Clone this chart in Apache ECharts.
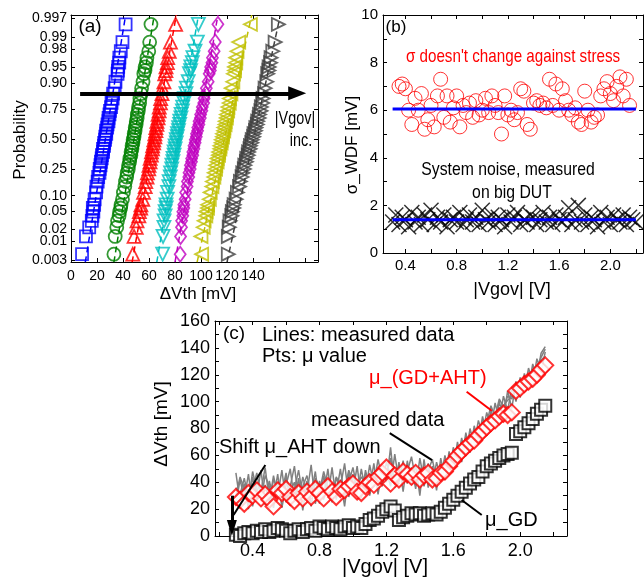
<!DOCTYPE html>
<html>
<head>
<meta charset="utf-8">
<script src="https://cdn.jsdelivr.net/npm/echarts@6/dist/echarts.min.js"></script>
<style>
  html, body { margin: 0; padding: 0; background: #fff; }
  #chart { width: 644px; height: 577px; }
</style>
</head>
<body>
<div id="chart"></div>
<script>
// ---------- (a) ΔVth distributions on a normal-probability scale ----------
// cumulative probability of each sorted sample (shared by all seven stress levels)
const probLevels = [
  0.0045, 0.0136, 0.0227, 0.0318, 0.0409, 0.0500, 0.0591, 0.0682, 0.0864, 0.1136,
  0.1409, 0.1682, 0.1955, 0.2227, 0.2500, 0.2773, 0.3045, 0.3318, 0.3591, 0.3864,
  0.4136, 0.4409, 0.4682, 0.4955, 0.5227, 0.5500, 0.5773, 0.6045, 0.6318, 0.6591,
  0.6864, 0.7136, 0.7409, 0.7682, 0.7955, 0.8227, 0.8500, 0.8773, 0.9045, 0.9318,
  0.9409, 0.9500, 0.9591, 0.9682, 0.9773, 0.9864, 0.9955
];
// sorted ΔVth [mV] at each probability level, one list per |Vgov|
const dvthBlue = [
  8.5, 11.5, 14.0, 16.0, 16.5, 17.2, 16.8, 17.8, 18.2, 19.3,
  19.6, 20.5, 20.9, 21.9, 22.1, 22.7, 23.0, 23.6, 23.8, 24.7,
  24.6, 25.4, 25.5, 26.2, 26.4, 27.1, 27.0, 27.8, 28.1, 28.8,
  28.9, 29.6, 30.0, 30.8, 31.2, 32.0, 32.4, 33.6, 34.2, 35.8,
  36.1, 36.3, 37.1, 37.2, 38.3, 39.6, 42.0
];
const dvthGreen = [
  33.0, 34.0, 35.2, 35.8, 37.0, 37.4, 38.2, 38.5, 39.6, 40.3,
  41.4, 41.9, 42.8, 43.2, 44.1, 44.3, 45.1, 45.3, 46.1, 46.2,
  46.9, 47.0, 47.7, 47.8, 48.5, 48.6, 49.3, 49.4, 50.1, 50.2,
  50.9, 51.0, 51.8, 52.0, 52.8, 53.0, 53.9, 54.3, 55.4, 56.0,
  56.9, 57.0, 58.0, 58.4, 59.8, 60.5, 61.5
];
const dvthRed = [
  47.5, 48.5, 50.2, 50.8, 52.2, 52.6, 53.6, 53.8, 55.2, 55.8,
  57.1, 57.5, 58.5, 58.8, 59.8, 60.0, 60.8, 60.9, 61.8, 61.9,
  62.7, 62.8, 63.6, 63.7, 64.5, 64.5, 65.3, 65.3, 66.1, 66.1,
  67.0, 67.0, 67.8, 67.9, 68.8, 69.0, 70.0, 70.3, 71.5, 72.1,
  73.0, 73.1, 74.1, 74.4, 75.6, 76.5, 80.5
];
const dvthCyan = [
  70.5, 70.8, 71.5, 71.6, 72.4, 72.4, 73.2, 73.1, 74.0, 74.3,
  75.3, 75.5, 76.4, 76.6, 77.5, 77.6, 78.4, 78.5, 79.3, 79.3,
  80.1, 80.1, 81.0, 81.0, 81.8, 81.9, 82.7, 82.8, 83.6, 83.7,
  84.6, 84.7, 85.7, 85.9, 86.9, 87.2, 88.4, 88.8, 90.2, 91.1,
  92.0, 92.2, 93.3, 93.8, 95.4, 97.2, 98.0
];
const dvthMagenta = [
  84.0, 84.3, 85.0, 85.1, 86.0, 86.0, 86.8, 86.8, 87.8, 88.2,
  89.3, 89.6, 90.6, 90.8, 91.7, 91.8, 92.7, 92.8, 93.7, 93.7,
  94.6, 94.6, 95.5, 95.6, 96.4, 96.5, 97.4, 97.5, 98.4, 98.5,
  99.5, 99.7, 100.7, 101.0, 102.1, 102.4, 103.6, 104.1, 105.5, 106.3,
  107.2, 107.4, 108.4, 108.8, 110.1, 111.0, 113.0
];
const dvthYellow = [
  100.5, 100.0, 101.7, 102.4, 103.7, 104.0, 105.0, 105.1, 106.4, 107.1,
  108.4, 108.8, 109.9, 110.2, 111.2, 111.4, 112.4, 112.5, 113.5, 113.6,
  114.5, 114.6, 115.5, 115.6, 116.5, 116.6, 117.5, 117.6, 118.5, 118.6,
  119.5, 119.6, 120.5, 120.7, 121.7, 121.9, 123.0, 123.3, 124.5, 125.0,
  125.8, 125.8, 126.7, 126.8, 127.7, 129.0, 138.0
];
const dvthGray = [
  121.0, 121.0, 121.7, 122.3, 123.7, 124.1, 125.2, 125.5, 127.0, 128.0,
  129.6, 130.3, 131.6, 132.1, 133.3, 133.7, 134.9, 135.2, 136.3, 136.6,
  137.7, 138.0, 139.1, 139.4, 140.5, 140.8, 141.9, 142.2, 143.3, 143.6,
  144.7, 145.0, 146.1, 146.4, 147.5, 147.8, 148.9, 149.3, 150.6, 151.3,
  152.2, 152.4, 153.5, 153.9, 155.2, 157.0, 159.5
];
// normal fit lines: ΔVth at the bottom and top probability of the axis
const fitProb = [0.0026, 0.9976];
const fitLow  = [11, 33, 47, 66, 80, 97, 120];
const fitHigh = [42, 64, 81, 98, 113, 139, 161];
const probTicks = ['0.003', '0.01', '0.02', '0.05', '0.10', '0.25', '0.50',
                   '0.75', '0.90', '0.95', '0.98', '0.99', '0.997'];
const dvthTicks = [0, 20, 40, 60, 80, 100, 120, 140];

// ---------- (b) σ of the ΔVth distribution vs. stress voltage ----------
const sigmaV = [
  0.350, 0.375, 0.400, 0.425, 0.450, 0.475, 0.500, 0.525, 0.550, 0.575,
  0.600, 0.625, 0.650, 0.675, 0.700, 0.725, 0.750, 0.775, 0.800, 0.825,
  0.850, 0.875, 0.900, 0.925, 0.950, 0.975, 1.000, 1.025, 1.050, 1.075,
  1.100, 1.125, 1.150, 1.175, 1.200, 1.225, 1.250, 1.275, 1.300, 1.325,
  1.350, 1.375, 1.400, 1.425, 1.450, 1.475, 1.500, 1.525, 1.550, 1.575,
  1.600, 1.625, 1.650, 1.675, 1.700, 1.725, 1.750, 1.775, 1.800, 1.825,
  1.850, 1.875, 1.900, 1.925, 1.950, 1.975, 2.000, 2.025, 2.050, 2.075,
  2.100, 2.125, 2.150
];
const sigmaWdf = [
  7.0, 7.1, 6.9, 6.0, 5.4, 6.5, 6.0, 6.7, 5.2, 5.6,
  6.2, 5.3, 6.6, 7.3, 5.7, 6.6, 5.5, 6.1, 6.6, 5.3,
  6.2, 5.9, 6.3, 5.7, 6.4, 5.8, 6.0, 6.5, 5.9, 6.6,
  6.2, 5.9, 5.0, 6.6, 5.8, 6.0, 5.6, 5.9, 6.9, 6.8,
  5.4, 5.2, 6.3, 6.4, 6.2, 6.3, 6.1, 7.3, 6.2, 7.1,
  6.0, 6.9, 6.4, 6.0, 5.8, 6.1, 5.5, 5.4, 6.8, 6.0,
  5.5, 5.7, 5.8, 6.6, 6.9, 7.2, 6.7, 6.4, 7.0, 7.4,
  6.6, 7.3, 6.2
];
const noiseV = [
  0.300, 0.325, 0.350, 0.375, 0.400, 0.425, 0.450, 0.475, 0.500, 0.525,
  0.550, 0.575, 0.600, 0.625, 0.650, 0.675, 0.700, 0.725, 0.750, 0.775,
  0.800, 0.825, 0.850, 0.875, 0.900, 0.925, 0.950, 0.975, 1.000, 1.025,
  1.050, 1.075, 1.100, 1.125, 1.150, 1.175, 1.200, 1.225, 1.250, 1.275,
  1.300, 1.325, 1.350, 1.375, 1.400, 1.425, 1.450, 1.475, 1.500, 1.525,
  1.550, 1.575, 1.600, 1.625, 1.650, 1.675, 1.700, 1.725, 1.750, 1.775,
  1.800, 1.825, 1.850, 1.875, 1.900, 1.925, 1.950, 1.975, 2.000, 2.025,
  2.050, 2.075, 2.100, 2.125, 2.150, 2.175, 2.200
];
const noiseWdf = [
  1.3, 1.6, 1.2, 1.5, 1.4, 1.1, 1.7, 1.3, 1.5, 1.2,
  1.6, 1.4, 1.8, 1.2, 1.5, 1.3, 1.6, 1.1, 1.4, 1.5,
  1.3, 1.7, 1.2, 1.4, 1.6, 1.3, 1.5, 1.2, 1.8, 1.4,
  1.3, 1.6, 1.2, 1.5, 1.4, 1.1, 1.6, 1.3, 1.5, 1.7,
  1.2, 1.4, 1.3, 1.6, 1.5, 1.2, 1.4, 1.7, 1.3, 1.5,
  1.2, 1.6, 1.4, 1.3, 1.5, 1.9, 1.2, 1.4, 2.0, 1.3,
  1.6, 1.2, 1.5, 1.4, 1.1, 1.7, 1.3, 1.5, 1.2, 1.6,
  1.4, 1.3, 1.6, 1.2, 1.5, 1.4, 1.3
];
const sigmaMean = 6.05;     // mean σ of the small devices
const noiseMean = 1.4;      // mean σ of the system noise
const meanSpan = [0.3, 2.2];

// ---------- (c) mean ΔVth vs. stress voltage ----------
const stressV = [
  0.300, 0.325, 0.350, 0.375, 0.400, 0.425, 0.450, 0.475, 0.500, 0.525,
  0.550, 0.575, 0.600, 0.625, 0.650, 0.675, 0.700, 0.725, 0.750, 0.775,
  0.800, 0.825, 0.850, 0.875, 0.900, 0.925, 0.950, 0.975, 1.000, 1.025,
  1.050, 1.075, 1.100, 1.125, 1.150, 1.175, 1.200, 1.225, 1.250, 1.275,
  1.300, 1.325, 1.350, 1.375, 1.400, 1.425, 1.450, 1.475, 1.500, 1.525,
  1.550, 1.575, 1.600, 1.625, 1.650, 1.675, 1.700, 1.725, 1.750, 1.775,
  1.800, 1.825, 1.850, 1.875, 1.900, 1.925, 1.950, 1.975, 2.000, 2.025,
  2.050, 2.075, 2.100, 2.125, 2.150
];
const muTotal = [
  29, 27, 24, 32, 30, 34, 28, 31, 27, 22,
  34, 32, 35, 29, 26, 32, 28, 33, 29, 35,
  32, 28, 37, 33, 29, 35, 34, 37, 39, 33,
  32, 37, 40, 38, 44, 47, 51, 39, 45, 42,
  48, 46, 44, 47, 42, 45, 47, 42, 43, 47,
  48, 52, 56, 60, 63, 66, 69, 71, 75, 78,
  81, 84, 86, 89, 91, 90, 92, 108, 110, 113,
  115, 117, 120, 124, 127
];
const muGd = [
  1, 0, 2, 3, 2, 4, 3, 5, 3, 4,
  6, 5, 4, 2, 4, 5, 3, 5, 6, 4,
  7, 6, 5, 7, 6, 5, 7, 8, 6, 7,
  6, 9, 12, 13, 15, 18, 20, 22, 19, 12,
  14, 15, 17, 16, 17, 15, 16, 17, 16, 18,
  21, 24, 27, 30, 33, 36, 39, 42, 44, 48,
  52, 54, 56, 58, 60, 61, 62, 76, 78, 81,
  84, 87, 91, 94, 97
];
// individual measured ΔVth traces
const measured1 = [
  47, 25, 39, 20, 44, 30, 49, 23, 41, 28,
  46, 21, 38, 50, 26, 43, 19, 40, 31, 48,
  24, 45, 29, 51, 27, 42, 22, 47, 33, 52,
  28, 49, 35, 54, 31, 50, 40, 66, 36, 55,
  33, 56, 38, 53, 30, 57, 36, 52, 34, 58,
  42, 63, 50, 70, 55, 77, 62, 82, 70, 89,
  75, 94, 82, 100, 88, 108, 95, 115, 103, 121,
  110, 128, 118, 136, 141
];
const measured2 = [
  24, 42, 28, 46, 22, 40, 33, 51, 26, 45,
  30, 49, 25, 37, 52, 27, 44, 32, 53, 24,
  41, 30, 50, 25, 43, 36, 54, 29, 46, 31,
  50, 33, 53, 38, 57, 42, 48, 37, 61, 40,
  56, 39, 51, 35, 58, 41, 54, 38, 55, 43,
  60, 46, 66, 55, 73, 60, 80, 68, 86, 76,
  92, 80, 99, 86, 104, 93, 111, 100, 118, 109,
  125, 114, 132, 122, 137
];
const measured3 = [
  36, 31, 43, 28, 35, 47, 30, 38, 25, 42,
  35, 29, 44, 33, 40, 24, 37, 45, 30, 39,
  33, 48, 36, 31, 44, 38, 35, 49, 40, 37,
  44, 39, 46, 42, 48, 37, 55, 45, 49, 44,
  47, 43, 49, 45, 42, 50, 44, 48, 46, 49,
  51, 56, 59, 63, 66, 70, 72, 77, 79, 83,
  86, 89, 91, 95, 97, 101, 104, 109, 112, 116,
  119, 124, 127, 131, 134
];
const measured4 = [
  30, 44, 35, 26, 48, 34, 27, 45, 37, 21,
  40, 33, 47, 23, 35, 49, 29, 41, 22, 43,
  37, 27, 42, 39, 32, 50, 28, 40, 51, 35,
  39, 46, 30, 47, 43, 52, 46, 58, 41, 51,
  40, 48, 59, 42, 51, 37, 49, 57, 41, 53,
  49, 59, 54, 66, 62, 74, 68, 79, 76, 85,
  84, 97, 89, 102, 96, 104, 102, 112, 108, 118,
  117, 122, 126, 133, 139
];

// inverse standard normal CDF (Acklam's rational approximation)
function probit(p) {
  const a = [-3.969683028665376e+01, 2.209460984245205e+02, -2.759285104469687e+02,
             1.383577518672690e+02, -3.066479806614716e+01, 2.506628277459239e+00];
  const b = [-5.447609879822406e+01, 1.615858368580409e+02, -1.556989798598866e+02,
             6.680131188771972e+01, -1.328068155288572e+01];
  const c = [-7.784894002430293e-03, -3.223964580411365e-01, -2.400758277161838e+00,
             -2.549732539343734e+00, 4.374664141464968e+00, 2.938163982698783e+00];
  const d = [7.784695709041462e-03, 3.224671290700398e-01, 2.445134137142996e+00,
             3.754408661907416e+00];
  const plow = 0.02425;
  let q, r;
  if (p < plow) {
    q = Math.sqrt(-2 * Math.log(p));
    return (((((c[0]*q+c[1])*q+c[2])*q+c[3])*q+c[4])*q+c[5]) /
           ((((d[0]*q+d[1])*q+d[2])*q+d[3])*q+1);
  }
  if (p <= 1 - plow) {
    q = p - 0.5; r = q * q;
    return (((((a[0]*r+a[1])*r+a[2])*r+a[3])*r+a[4])*r+a[5])*q /
           (((((b[0]*r+b[1])*r+b[2])*r+b[3])*r+b[4])*r+1);
  }
  q = Math.sqrt(-2 * Math.log(1 - p));
  return -(((((c[0]*q+c[1])*q+c[2])*q+c[3])*q+c[4])*q+c[5]) /
          ((((d[0]*q+d[1])*q+d[2])*q+d[3])*q+1);
}

const SANS = "'Liberation Sans',Arial,Helvetica,sans-serif";

const probZ = probTicks.map(s => probit(parseFloat(s)));
// nearest probability tick for a position on the z axis
function probLabel(v) {
  const z = Number(v);
  let best = 0;
  for (let i = 1; i < probZ.length; i++) {
    if (Math.abs(probZ[i] - z) < Math.abs(probZ[best] - z)) best = i;
  }
  return '{p|' + probTicks[best] + '}';
}
const steps = (from, to, step) => {
  const out = [];
  for (let v = from; v <= to + 1e-9; v += step) out.push(+v.toFixed(4));
  return out;
};

function mkAxis(p) {
  return {
    type: 'value', gridIndex: p.grid, position: p.pos, min: p.min, max: p.max,
    splitLine: { show: false },
    axisLine: { show: true, onZero: false, lineStyle: { color: '#000', width: 1 } },
    axisTick: { show: true, inside: true, length: 4, customValues: p.ticks,
                lineStyle: { color: '#000', width: 1 } },
    axisLabel: { show: !!p.labels, customValues: p.labels, formatter: p.fmt,
                 color: '#000', fontFamily: SANS, fontSize: p.size, margin: p.margin,
                 rich: { p: { fontFamily: SANS, fontSize: p.size, color: '#000' } } },
  };
}

const zMin = -2.79, zMax = 2.825;
const fixed1 = v => Number(v).toFixed(1);
const xAxes = [
  mkAxis({ grid: 0, pos: 'bottom', min: 0, max: 190, ticks: steps(0, 180, 20),
           labels: dvthTicks, fmt: v => String(v), size: 14, margin: 7 }),
  mkAxis({ grid: 0, pos: 'top', min: 0, max: 190, ticks: steps(0, 180, 20) }),
  mkAxis({ grid: 1, pos: 'bottom', min: 0.225, max: 2.255, ticks: steps(0.4, 2.2, 0.2),
           labels: steps(0.4, 2.0, 0.4), fmt: fixed1, size: 15, margin: 5 }),
  mkAxis({ grid: 1, pos: 'top', min: 0.225, max: 2.255, ticks: steps(0.4, 2.2, 0.2) }),
  mkAxis({ grid: 2, pos: 'bottom', min: 0.175, max: 2.28, ticks: steps(0.2, 2.2, 0.2),
           labels: steps(0.4, 2.0, 0.4), fmt: fixed1, size: 18, margin: 6 }),
  mkAxis({ grid: 2, pos: 'top', min: 0.175, max: 2.28, ticks: steps(0.2, 2.2, 0.2) }),
];
const yAxes = [
  mkAxis({ grid: 0, pos: 'left', min: zMin, max: zMax, ticks: probZ,
           labels: probZ, fmt: probLabel, size: 14, margin: 4 }),
  mkAxis({ grid: 0, pos: 'right', min: zMin, max: zMax, ticks: probZ }),
  mkAxis({ grid: 1, pos: 'left', min: 0, max: 10, ticks: steps(0, 10, 1),
           labels: steps(0, 10, 2), fmt: v => String(v), size: 15, margin: 5 }),
  mkAxis({ grid: 1, pos: 'right', min: 0, max: 10, ticks: steps(0, 10, 1) }),
  mkAxis({ grid: 2, pos: 'left', min: 0, max: 160, ticks: steps(0, 160, 10),
           labels: steps(0, 160, 20), fmt: v => String(v), size: 18, margin: 5 }),
  mkAxis({ grid: 2, pos: 'right', min: 0, max: 160, ticks: steps(0, 160, 10) }),
];

// marker styles for the seven stress levels in (a)
const dists = [
  { data: dvthBlue,    color: '#0000ff', symbol: 'rect',     size: 12,       rot: 0 },
  { data: dvthGreen,   color: '#008000', symbol: 'circle',   size: 13,       rot: 0 },
  { data: dvthRed,     color: '#ff0000', symbol: 'triangle', size: 13,       rot: 0 },
  { data: dvthCyan,    color: '#00bfbf', symbol: 'triangle', size: 13,       rot: 180 },
  { data: dvthMagenta, color: '#bf00bf', symbol: 'diamond',  size: [11, 15], rot: 0 },
  { data: dvthYellow,  color: '#bfbf00', symbol: 'triangle', size: 13,       rot: 90 },
  { data: dvthGray,    color: '#404040', symbol: 'triangle', size: 13,       rot: -90 },
];

const series = [];
dists.forEach((d, k) => {
  series.push({
    type: 'line', xAxisIndex: 0, yAxisIndex: 0, silent: true, symbol: 'none',
    data: [[fitLow[k], probit(fitProb[0])], [fitHigh[k], probit(fitProb[1])]],
    lineStyle: { color: d.color, width: 1.5, type: [6, 4] }, z: 2,
  });
  series.push({
    type: 'scatter', xAxisIndex: 0, yAxisIndex: 0, silent: true,
    symbol: d.symbol, symbolSize: d.size, symbolRotate: d.rot,
    data: d.data.map((v, i) => [v, probit(probLevels[i])]),
    itemStyle: { color: 'rgba(0,0,0,0)', borderColor: d.color, borderWidth: 1.8 }, z: 3,
  });
});

// arrow marking increasing |Vgov| in (a)
const arrowA = { from: 7, to: 174, prob: 0.852 };
series.push({
  type: 'line', xAxisIndex: 0, yAxisIndex: 0, data: [], silent: true, z: 10,
  markLine: {
    silent: true, animation: false, symbol: ['none', 'triangle'], symbolSize: [14, 18],
    label: { show: false }, lineStyle: { color: '#000', width: 4, type: 'solid' },
    data: [[{ coord: [arrowA.from, probit(arrowA.prob)] }, { coord: [arrowA.to, probit(arrowA.prob)] }]],
  },
});

// (b)
series.push({
  type: 'scatter', xAxisIndex: 2, yAxisIndex: 2, silent: true,
  symbol: 'circle', symbolSize: 14,
  data: sigmaV.map((v, i) => [v, sigmaWdf[i]]),
  itemStyle: { color: 'rgba(0,0,0,0)', borderColor: '#ff0000', borderWidth: 1 },
});
series.push({
  type: 'scatter', xAxisIndex: 2, yAxisIndex: 2, silent: true,
  symbol: 'path://M0 0L10 10M10 0L0 10', symbolSize: 15,
  data: noiseV.map((v, i) => [v, noiseWdf[i]]),
  itemStyle: { color: 'none', borderColor: '#000', borderWidth: 1.5 },
});
[sigmaMean, noiseMean].forEach(m => {
  series.push({
    type: 'line', xAxisIndex: 2, yAxisIndex: 2, silent: true, symbol: 'none', z: 5,
    data: [[meanSpan[0], m], [meanSpan[1], m]],
    lineStyle: { color: '#0000ff', width: 3 },
  });
});

// (c)
[measured1, measured2, measured3, measured4].forEach(arr => {
  series.push({
    type: 'line', xAxisIndex: 4, yAxisIndex: 4, silent: true, symbol: 'none',
    data: stressV.map((v, i) => [v, arr[i]]),
    lineStyle: { color: '#808080', width: 1.5 }, z: 2,
  });
});
series.push({
  type: 'scatter', xAxisIndex: 4, yAxisIndex: 4, silent: true,
  symbol: 'rect', symbolSize: 12, clip: true,
  data: stressV.map((v, i) => [v, muGd[i]]),
  itemStyle: { color: '#fff', borderColor: '#000', borderWidth: 2 }, z: 3,
});
series.push({
  type: 'scatter', xAxisIndex: 4, yAxisIndex: 4, silent: true,
  symbol: 'diamond', symbolSize: 16, clip: true,
  data: stressV.map((v, i) => [v, muTotal[i]]),
  itemStyle: { color: '#fff', borderColor: '#ff0000', borderWidth: 2 }, z: 4,
});

// pointer lines and the downward shift arrow in (c)
const ptr = (x1, y1, x2, y2, color, width, end) => [
  { coord: [x1, y1], symbol: 'none', lineStyle: { color, width, type: 'solid' } },
  { coord: [x2, y2], symbol: end || 'none', lineStyle: { color, width, type: 'solid' } },
];
series.push({
  type: 'line', xAxisIndex: 4, yAxisIndex: 4, data: [], silent: true, z: 10,
  markLine: {
    silent: true, animation: false, symbolSize: [10, 16], label: { show: false },
    data: [
      ptr(0.476, 52.8, 0.286, 15.6, '#000', 2),
      ptr(0.276, 30, 0.276, 6, '#000', 3, 'triangle'),
      ptr(1.22, 76.6, 1.473, 56.5, '#000', 2),
      ptr(1.68, 107.4, 1.83, 93.2, '#ff0000', 2),
      ptr(1.65, 26.8, 1.77, 15.6, '#000', 2),
    ],
  },
});

// text annotations and axis titles (sx narrows the condensed-looking captions)
const txt = (text, x, y, o = {}) => ({
  type: 'text', x, y, rotation: o.rot || 0, scaleX: o.sx || 1, silent: true, z: 100,
  style: {
    text, fill: o.color || '#000', font: `${o.size || 18}px ${SANS}`,
    textAlign: o.align || 'center', textVerticalAlign: 'middle',
  },
});
const graphics = [
  txt('(a)', 90, 27, { size: 19 }),
  txt('|Vgov|', 295, 119, { size: 18, sx: 0.8 }),
  txt('inc.', 301, 141, { size: 18, sx: 0.8 }),
  txt('Probability', 20, 140, { size: 17, rot: Math.PI / 2 }),
  txt('ΔVth [mV]', 198, 294, { size: 17 }),

  txt('(b)', 396, 27, { size: 17 }),
  txt('σ doesn\'t change against stress', 513, 57, { size: 19, sx: 0.8, color: '#ff0000' }),
  txt('System noise, measured', 508, 170, { size: 19, sx: 0.83 }),
  txt('on big DUT', 512, 193, { size: 19, sx: 0.83 }),
  txt('σ_WDF [mV]', 352, 145, { size: 17, rot: Math.PI / 2 }),
  txt('|Vgov| [V]', 512, 290, { size: 18 }),

  txt('(c)', 234, 334, { size: 19 }),
  txt('Lines: measured data', 262, 335, { size: 20, align: 'left' }),
  txt('Pts: μ value', 262, 356, { size: 20, align: 'left' }),
  txt('μ_(GD+AHT)', 369, 378, { size: 20, align: 'left', color: '#ff0000' }),
  txt('measured data', 311, 420, { size: 20, align: 'left' }),
  txt('Shift μ_AHT down', 219, 447, { size: 20, align: 'left' }),
  txt('μ_GD', 485, 520, { size: 20, align: 'left' }),
  txt('ΔVth [mV]', 162, 424, { size: 19, rot: Math.PI / 2 }),
  txt('|Vgov| [V]', 385, 567, { size: 20 }),
];

const chart = echarts.init(document.getElementById('chart'), null, { renderer: 'canvas' });
chart.setOption({
  backgroundColor: '#fff',
  animation: false,
  grid: [
    { left: 71, top: 15, width: 247, height: 247 },
    { left: 383, top: 15, width: 260, height: 238 },
    { left: 215, top: 321, width: 352, height: 215 },
  ],
  xAxis: xAxes,
  yAxis: yAxes,
  series,
  graphic: { elements: graphics },
});
</script>
</body>
</html>
